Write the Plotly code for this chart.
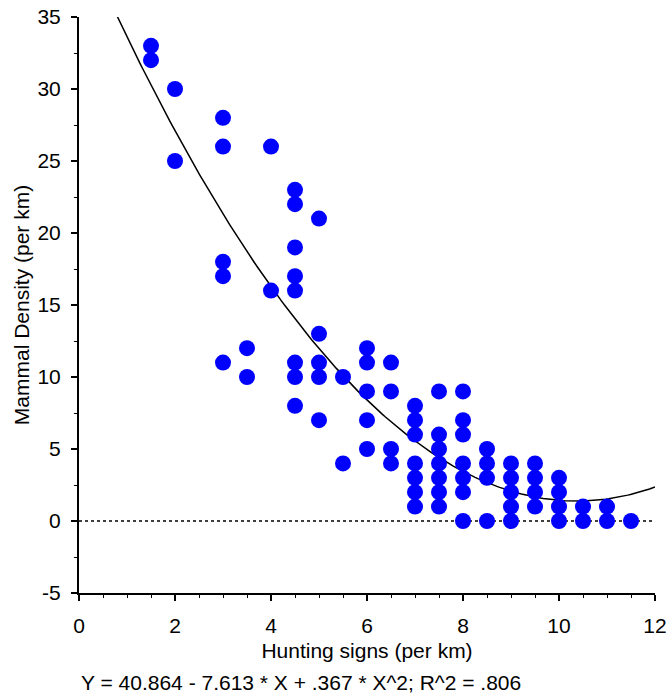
import numpy as np
import plotly.graph_objects as go

# Scatter data: hunting signs (per km) vs mammal density (per km)
hunting_signs = [
    1.5, 1.5,
    2, 2,
    3, 3, 3, 3, 3,
    3.5, 3.5,
    4, 4,
    4.5, 4.5, 4.5, 4.5, 4.5, 4.5, 4.5, 4.5,
    5, 5, 5, 5, 5,
    5.5, 5.5,
    6, 6, 6, 6, 6,
    6.5, 6.5, 6.5, 6.5,
    7, 7, 7, 7, 7, 7, 7,
    7.5, 7.5, 7.5, 7.5, 7.5, 7.5, 7.5,
    8, 8, 8, 8, 8, 8, 8,
    8.5, 8.5, 8.5, 8.5,
    9, 9, 9, 9, 9,
    9.5, 9.5, 9.5, 9.5,
    10, 10, 10, 10,
    10.5, 10.5,
    11, 11,
    11.5,
]
mammal_density = [
    33, 32,
    30, 25,
    28, 26, 18, 17, 11,
    12, 10,
    26, 16,
    23, 22, 19, 17, 16, 11, 10, 8,
    21, 13, 11, 10, 7,
    10, 4,
    12, 11, 9, 7, 5,
    11, 9, 5, 4,
    8, 7, 6, 4, 3, 2, 1,
    9, 6, 5, 4, 3, 2, 1,
    9, 7, 6, 4, 3, 2, 0,
    5, 4, 3, 0,
    4, 3, 2, 1, 0,
    4, 3, 2, 1,
    3, 2, 1, 0,
    1, 0,
    1, 0,
    0,
]

# Quadratic fit shown in the chart caption
fit_coefs = [40.864, -7.613, 0.367]  # b0, b1, b2
fit_label = "Y = 40.864 - 7.613 * X + .367 * X^2; R^2 = .806"

x_ticks = [0, 2, 4, 6, 8, 10, 12]
y_ticks = [-5, 0, 5, 10, 15, 20, 25, 30, 35]

fx = np.linspace(0.7, 12, 200)
fy = fit_coefs[0] + fit_coefs[1] * fx + fit_coefs[2] * fx ** 2

FONT = "Liberation Sans, Arial, sans-serif"
FS = 21

fig = go.Figure()
fig.add_trace(go.Scatter(x=[0, 12], y=[0, 0], mode="lines",
                         line=dict(color="black", width=1.5, dash="dot"),
                         hoverinfo="skip", showlegend=False))
fig.add_trace(go.Scatter(x=fx, y=fy, mode="lines",
                         line=dict(color="black", width=1.5),
                         showlegend=False))
fig.add_trace(go.Scatter(x=hunting_signs, y=mammal_density, mode="markers",
                         marker=dict(color="#0000FF", size=16, line=dict(width=0)),
                         showlegend=False))

fig.update_layout(
    width=669, height=696,
    margin=dict(l=79, r=14, t=17, b=103, autoexpand=False),
    paper_bgcolor="white", plot_bgcolor="white",
    font=dict(family=FONT, size=FS, color="black"),
    showlegend=False,
    annotations=[dict(text=fit_label, xref="paper", yref="paper",
                      x=0.0, y=-0.156, xanchor="left", yanchor="middle",
                      showarrow=False, font=dict(size=FS, family=FONT))],
)
fig.update_xaxes(
    range=[0, 12], tickvals=x_ticks, ticktext=[str(v) for v in x_ticks],
    showline=True, linecolor="black", linewidth=2, mirror=False,
    ticks="outside", ticklen=6, tickwidth=1.5, tickcolor="black",
    minor=dict(dtick=0.5, tick0=0, ticks="outside", ticklen=3, tickcolor="black", tickwidth=1),
    showgrid=False, zeroline=False,
    ticklabelstandoff=7,
    title=dict(text="Hunting signs (per km)", standoff=7, font=dict(size=FS)),
    automargin=False,
)
fig.update_yaxes(
    range=[-5, 35], tickvals=y_ticks, ticktext=[str(v) for v in y_ticks],
    showline=True, linecolor="black", linewidth=2, mirror=False,
    ticks="outside", ticklen=6, tickwidth=1.5, tickcolor="black",
    minor=dict(dtick=2.5, tick0=0, ticks="outside", ticklen=3, tickcolor="black", tickwidth=1),
    showgrid=False, zeroline=False,
    ticklabelstandoff=6,
    title=dict(text="Mammal Density (per km)", standoff=2, font=dict(size=FS)),
    automargin=False,
)

fig.write_html("out.html")
